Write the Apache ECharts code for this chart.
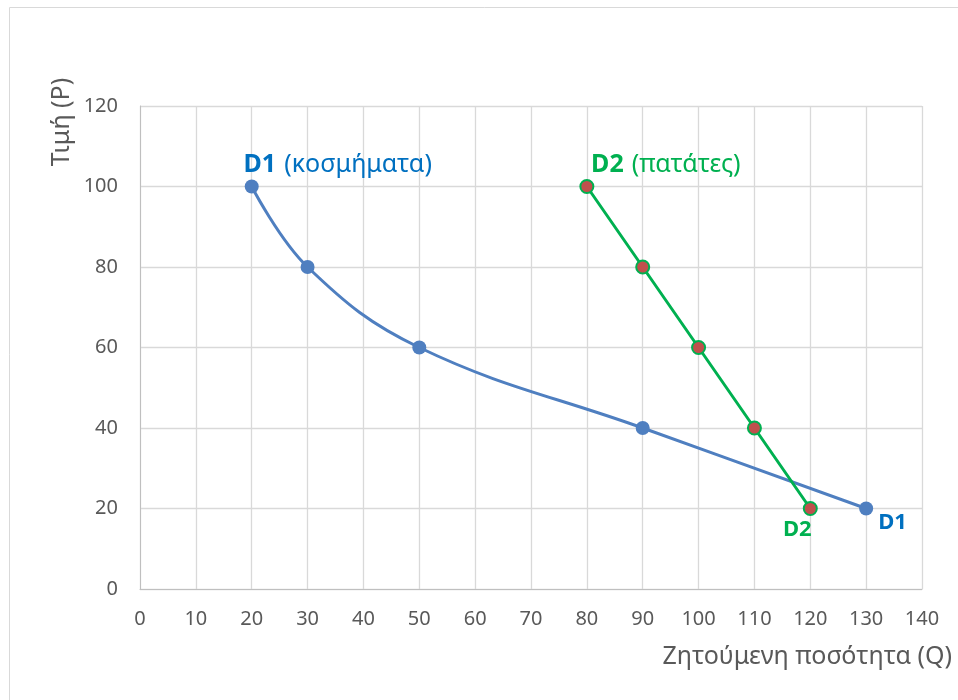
<!DOCTYPE html>
<html>
<head>
    <meta charset="utf-8">
    <title>D1 - D2</title>
    <script src="https://cdn.jsdelivr.net/npm/echarts@6/dist/echarts.min.js"></script>
    <style>
        body { margin: 0; background: #fff; }
    </style>
</head>
<body>
    <div id="main" style="width: 958px;height: 700px;"></div>
    <script type="text/javascript">
        // καμπύλες ζήτησης
        var qD1 = [20, 30, 50, 90, 130];
        var pD1 = [100, 80, 60, 40, 20];
        var qD2 = [80, 90, 100, 110, 120];
        var pD2 = [100, 80, 60, 40, 20];

        var xTitle = 'Ζητούμενη ποσότητα (Q)';
        var yTitle = 'Τιμή (P)';

        var font = 'Noto Sans, Open Sans, sans-serif';

        function pairs(xs, ys) {
            return xs.map(function (x, i) { return [x, ys[i]]; });
        }

        var d1 = pairs(qD1, pD1);
        var d2 = pairs(qD2, pD2);

        // ετικέτες στην αρχή και στο τέλος κάθε καμπύλης
        d1[0] = {
            value: d1[0],
            label: {
                show: true, position: 'top', offset: [86, 3],
                formatter: '{b|D1}{n|(κοσμήματα)}',
                rich: {
                    b: { fontWeight: 'bold', fontSize: 25, color: '#0070c0', fontFamily: font, padding: [0, 8, 0, 0] },
                    n: { fontSize: 25, color: '#0070c0', fontFamily: font }
                }
            }
        };
        d1[d1.length - 1] = {
            value: d1[d1.length - 1],
            label: {
                show: true, position: 'right', offset: [0, 14],
                formatter: 'D1', fontWeight: 'bold', fontSize: 22, color: '#0070c0', fontFamily: font
            }
        };
        d2[0] = {
            value: d2[0],
            label: {
                show: true, position: 'top', offset: [79, 3],
                formatter: '{b|D2}{n|(πατάτες)}',
                rich: {
                    b: { fontWeight: 'bold', fontSize: 25, color: '#00b050', fontFamily: font, padding: [0, 8, 0, 0] },
                    n: { fontSize: 25, color: '#00b050', fontFamily: font }
                }
            }
        };
        d2[d2.length - 1] = {
            value: d2[d2.length - 1],
            label: {
                show: true, position: 'bottom', offset: [-13, -2],
                formatter: 'D2', fontWeight: 'bold', fontSize: 22, color: '#00b050', fontFamily: font
            }
        };

        var myChart = echarts.init(document.getElementById('main'));

        var option = {
            animation: false,
            textStyle: { fontFamily: font },
            grid: { left: 140, right: 36, top: 106, bottom: 111 },
            graphic: [
                {
                    type: 'rect', silent: true,
                    shape: { x: 9.5, y: 7.5, width: 1000, height: 800 },
                    style: { fill: 'none', stroke: '#d9d9d9', lineWidth: 1 }
                },
                {
                    type: 'text', x: 62, y: 122, rotation: Math.PI / 2,
                    style: { text: yTitle, fontSize: 25, fill: '#595959', fontFamily: font, align: 'center', verticalAlign: 'middle' }
                },
                {
                    type: 'text', x: 952, y: 657,
                    style: { text: xTitle, fontSize: 25, fill: '#595959', fontFamily: font, align: 'right', verticalAlign: 'middle' }
                }
            ],
            xAxis: {
                type: 'value', min: 0, max: 140, interval: 10,
                axisLine: { show: true, lineStyle: { color: '#bfbfbf' } },
                axisTick: { show: false },
                axisLabel: { color: '#595959', fontSize: 20, margin: 20 },
                splitLine: { show: true, lineStyle: { color: '#d9d9d9', width: 1.3 } }
            },
            yAxis: {
                type: 'value', min: 0, max: 120, interval: 20,
                axisLine: { show: true, lineStyle: { color: '#bfbfbf' } },
                axisTick: { show: false },
                axisLabel: { color: '#595959', fontSize: 20, margin: 22 },
                splitLine: { show: true, lineStyle: { color: '#d9d9d9', width: 1.3 } }
            },
            series: [
                {
                    name: 'D1', type: 'line', smooth: 0.4,
                    data: d1,
                    symbol: 'circle', symbolSize: 14,
                    lineStyle: { color: '#4f7fc0', width: 3 },
                    itemStyle: { color: '#4f7fc0' },
                    z: 3
                },
                {
                    name: 'D2', type: 'line',
                    data: d2,
                    symbol: 'circle', symbolSize: 13,
                    lineStyle: { color: '#00b050', width: 3 },
                    itemStyle: { color: '#c0504d', borderColor: '#00b050', borderWidth: 2 },
                    z: 4
                }
            ]
        };

        myChart.setOption(option);
    </script>
</body>
</html>
